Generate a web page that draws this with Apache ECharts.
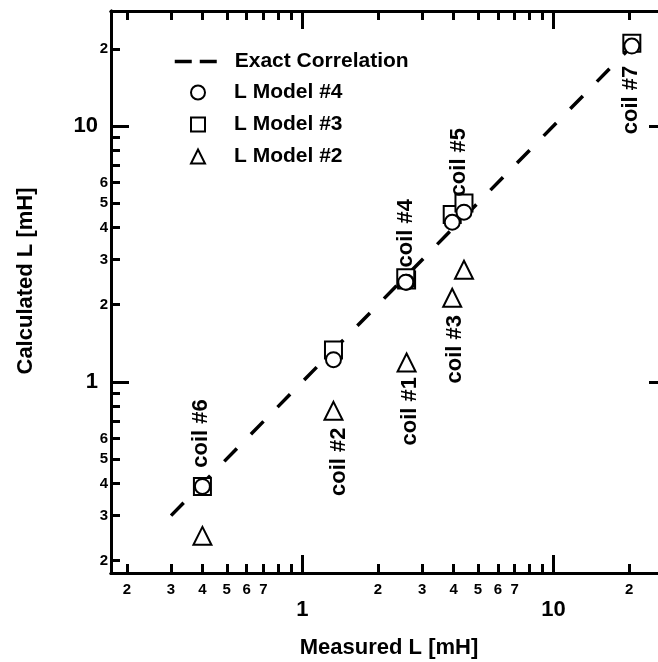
<!DOCTYPE html>
<html><head><meta charset="utf-8">
<script src="https://cdn.jsdelivr.net/npm/echarts@6/dist/echarts.min.js"></script>
<style>html,body{margin:0;padding:0;background:#fff}#c{width:658px;height:662px}</style>
</head><body><div id="c"></div>
<script>
// ---- data ----
const coils    = ['coil #1','coil #2','coil #3','coil #4','coil #5','coil #6','coil #7'];
const measured = [2.6, 1.33, 3.95, 2.58, 4.4, 0.4, 20.5];
const modelL4  = [2.45, 1.22, 4.2, 2.45, 4.6, 0.39, 20.5];
const modelL3  = [2.5, 1.33, 4.5, 2.55, 5.0, 0.39, 21.0];
const modelL2  = [1.19, 0.77, 2.13, null, 2.74, 0.25, null];
const exactLine = [0.3, 20];

const decadeTicks = [0.1, 1, 10, 100];
const decadeLabels = [1, 10];
const decadeLabelText = ['1', '10'];
const minorTicks = [0.2,0.3,0.4,0.5,0.6,0.7,0.8,0.9, 2,3,4,5,6,7,8,9, 20,30,40,50,60,70,80,90];
const xMinorLabels = [0.2,0.3,0.4,0.5,0.6,0.7, 2,3,4,5,6,7, 20];
const xMinorLabelText = ['2','3','4','5','6','7','2','3','4','5','6','7','2'];
const yMinorLabels = [0.2,0.3,0.4,0.5,0.6, 2,3,4,5,6, 20];
const yMinorLabelText = ['2','3','4','5','6','2','3','4','5','6','2'];

const xRange = [0.173, 28.3];
const yRange = [0.179, 28.1];

// ---- styles ----
const FONT = "'Liberation Sans', Arial, sans-serif";
const labelOffsets = { // pixel offsets of coil label centres from the L Model #4 point
  'coil #1': [3.5, 129], 'coil #2': [5, 102], 'coil #3': [3, 127], 'coil #4': [0.5, -49],
  'coil #5': [-5, -50], 'coil #6': [-1, -53], 'coil #7': [-0.5, 54]
};

function lookup(vals, texts) {
  return function (v) {
    for (let i = 0; i < vals.length; i++) if (Math.abs(vals[i] - v) < 1e-6 * vals[i]) return texts[i];
    return '';
  };
}

function makeAxis(dim, position, major, labels, texts, showLabel, margin, fontSize) {
  const range = dim === 'x' ? xRange : yRange;
  return {
    type: 'log', logBase: 10, position: position, min: range[0], max: range[1],
    axisLine: { show: true, onZero: false, lineStyle: { color: '#000', width: 3 } },
    axisTick: { show: true, inside: true, customValues: major ? decadeTicks : minorTicks,
      length: major ? 18 : 9, lineStyle: { color: '#000', width: 3 } },
    axisLabel: { show: showLabel, customValues: labels || [], formatter: lookup(labels || [], texts || []),
      margin: margin, color: '#000', fontWeight: 'bold', fontFamily: FONT, fontSize: fontSize },
    splitLine: { show: false }, minorTick: { show: false }
  };
}

const xAxes = [
  Object.assign(makeAxis('x', 'bottom', true, decadeLabels, decadeLabelText, true, 26, 22), {
    name: 'Measured L [mH]', nameLocation: 'middle', nameGap: 64,
    nameTextStyle: { color: '#000', fontWeight: 'bold', fontFamily: FONT, fontSize: 22 } }),
  makeAxis('x', 'bottom', false, xMinorLabels, xMinorLabelText, true, 9, 15),
  makeAxis('x', 'top', true, null, null, false, 8, 12),
  makeAxis('x', 'top', false, null, null, false, 8, 12)
];
const yAxes = [
  Object.assign(makeAxis('y', 'left', true, decadeLabels, decadeLabelText, true, 13, 22), {
    name: 'Calculated L [mH]', nameLocation: 'middle', nameGap: 74,
    nameTextStyle: { color: '#000', fontWeight: 'bold', fontFamily: FONT, fontSize: 22, padding: [0, 0, 0, 22] } }),
  makeAxis('y', 'left', false, yMinorLabels, yMinorLabelText, true, 3, 15),
  makeAxis('y', 'right', true, null, null, false, 8, 12),
  makeAxis('y', 'right', false, null, null, false, 8, 12)
];

function pairs(ys) {
  const out = [];
  for (let i = 0; i < measured.length; i++) if (ys[i] != null) out.push([measured[i], ys[i]]);
  return out;
}
const markerStyle = { color: '#fff', borderColor: '#000', borderWidth: 2, opacity: 1 };
const legendText = { color: '#000', fontWeight: 'bold', fontFamily: FONT, fontSize: 21 };

const chart = echarts.init(document.getElementById('c'), null, { renderer: 'canvas' });
chart.setOption({
  animation: false,
  backgroundColor: '#fff',
  grid: { left: 111, top: 11, width: 556, height: 562, containLabel: false, outerBoundsMode: 'none' },
  xAxis: xAxes,
  yAxis: yAxes,
  legend: [
    { orient: 'vertical', left: 168, top: 46, itemWidth: 42, itemHeight: 14, selectedMode: false,
      data: [{ name: 'Exact Correlation', itemStyle: { opacity: 0 },
        lineStyle: { type: [17, 8], width: 3.5, color: '#000' } }],
      textStyle: Object.assign({ padding: [0, 0, 0, 13] }, legendText) },
    { orient: 'vertical', left: 185, top: 77, itemWidth: 14, itemHeight: 14, itemGap: 11, selectedMode: false,
      data: ['L Model #4', 'L Model #3', 'L Model #2'],
      textStyle: Object.assign({ padding: [0, 0, 0, 24] }, legendText) }
  ],
  series: [
    { name: 'Exact Correlation', type: 'line', symbol: 'none', silent: true, z: 1,
      data: [[exactLine[0], exactLine[0]], [exactLine[1], exactLine[1]]],
      lineStyle: { color: '#000', width: 3.5, type: [18, 20] } },
    { name: 'L Model #2', type: 'scatter', symbol: 'triangle', symbolSize: 18, z: 2,
      data: pairs(modelL2), itemStyle: markerStyle },
    { name: 'L Model #3', type: 'scatter', symbol: 'rect', symbolSize: 17, z: 3,
      data: pairs(modelL3), itemStyle: markerStyle },
    { name: 'L Model #4', type: 'scatter', symbol: 'circle', symbolSize: 15, z: 4,
      data: pairs(modelL4), itemStyle: markerStyle }
  ]
});

const graphics = coils.map(function (name, i) {
  const p = chart.convertToPixel({ xAxisIndex: 0, yAxisIndex: 0 }, [measured[i], modelL4[i]]);
  const off = labelOffsets[name];
  return {
    type: 'text', x: p[0] + off[0], y: p[1] + off[1], rotation: Math.PI / 2, z: 10,
    style: { text: name, x: 0, y: 0, textAlign: 'center', textVerticalAlign: 'middle',
      fill: '#000', font: 'bold 22px ' + FONT }
  };
});
chart.setOption({ graphic: graphics });
</script></body></html>
